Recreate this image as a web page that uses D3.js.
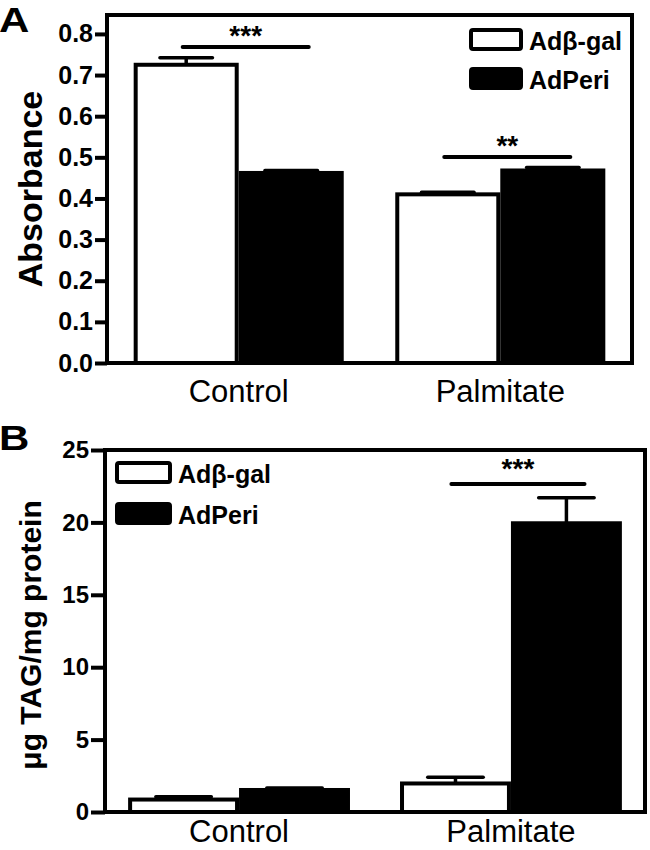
<!DOCTYPE html>
<html><head><meta charset="utf-8">
<script src="https://cdn.jsdelivr.net/npm/d3@7"></script>
<style>
body{margin:0;background:#fff}
svg{display:block}
text{font-family:"Liberation Sans",Arial,Helvetica,sans-serif;fill:#000}
</style>
</head><body>
<svg id="chart" width="650" height="850"></svg>
<script>
// ---------- data ----------
const categories = ["Control", "Palmitate"];
const seriesNames = ["Adβ-gal", "AdPeri"];

// Panel A: Absorbance
const absBgalMean = [0.725, 0.410];
const absBgalErr  = [0.017, 0.005];
const absPeriMean = [0.462, 0.468];
const absPeriErr  = [0.006, 0.007];
const absTicks = [0, 0.1, 0.2, 0.3, 0.4, 0.5, 0.6, 0.7, 0.8];
const absTickLabels = ["0.0", "0.1", "0.2", "0.3", "0.4", "0.5", "0.6", "0.7", "0.8"];
const absSigCats = ["Control", "Palmitate"];
const absSigLevels = [0.768, 0.501];
const absSigLabels = ["***", "**"];

// Panel B: µg TAG/mg protein
const tagBgalMean = [0.86, 1.97];
const tagBgalErr  = [0.20, 0.43];
const tagPeriMean = [1.52, 19.94];
const tagPeriErr  = [0.14, 1.76];
const tagTicks = [0, 5, 10, 15, 20, 25];
const tagTickLabels = ["0", "5", "10", "15", "20", "25"];
const tagSigCats = ["Palmitate"];
const tagSigLevels = [22.65];
const tagSigLabels = ["***"];

// ---------- drawing ----------
const svg = d3.select("#chart");
const SW = 4;

function drawPanel(cfg) {
  const g = svg.append("g");
  const x0 = d3.scaleBand().domain(categories)
    .range([cfg.left, cfg.right]).paddingInner(cfg.pi).paddingOuter(cfg.po);
  const x1 = d3.scaleBand().domain(seriesNames).range([0, x0.bandwidth()]);
  const y = d3.scaleLinear().domain([0, cfg.yMax]).range([cfg.bottom, cfg.top]);

  const rows = [];
  categories.forEach((c, i) => {
    seriesNames.forEach((s, j) => {
      rows.push({cat: c, ser: s, j: j, mean: cfg.means[j][i], err: cfg.errs[j][i]});
    });
  });

  // error bars
  const cx = d => x0(d.cat) + x1(d.ser) + x1.bandwidth() / 2;
  const capW = x1.bandwidth() * 0.5;
  g.selectAll("line.stem").data(rows).join("line")
    .attr("x1", cx).attr("x2", cx)
    .attr("y1", d => y(d.mean)).attr("y2", d => y(d.mean + d.err))
    .attr("stroke", "#000").attr("stroke-width", 3.5);
  g.selectAll("line.cap").data(rows).join("line")
    .attr("x1", d => cx(d) - capW / 2).attr("x2", d => cx(d) + capW / 2)
    .attr("y1", d => y(d.mean + d.err)).attr("y2", d => y(d.mean + d.err))
    .attr("stroke", "#000").attr("stroke-width", 3.5).attr("stroke-linecap", "round");

  // bars
  g.selectAll("rect.bar").data(rows).join("rect")
    .attr("x", d => x0(d.cat) + x1(d.ser) + SW / 2)
    .attr("width", x1.bandwidth() - SW)
    .attr("y", d => y(d.mean))
    .attr("height", d => y(0) - y(d.mean))
    .attr("fill", d => d.j === 0 ? "#fff" : "#000")
    .attr("stroke", "#000").attr("stroke-width", SW);

  // y axis
  const ax = g.append("g").attr("transform", `translate(${cfg.left},0)`)
    .call(d3.axisLeft(y).tickValues(cfg.ticks)
      .tickFormat((d, i) => cfg.tickLabels[i]).tickSize(cfg.tickLen).tickPadding(2));
  ax.select(".domain").remove();
  ax.selectAll(".tick line").attr("stroke", "#000").attr("stroke-width", SW);
  ax.selectAll(".tick text")
    .style("font-family", '"Liberation Sans",Arial,sans-serif')
    .style("font-size", cfg.tickFont + "px").style("font-weight", "bold")
    .attr("fill", "#000");

  // frame
  g.append("rect")
    .attr("x", cfg.left).attr("y", cfg.top)
    .attr("width", cfg.right - cfg.left).attr("height", cfg.bottom - cfg.top)
    .attr("fill", "none").attr("stroke", "#000").attr("stroke-width", SW);

  // category labels
  g.selectAll("text.cat").data(categories).join("text")
    .attr("x", d => x0(d) + x0.bandwidth() / 2)
    .attr("y", cfg.catY)
    .attr("text-anchor", "middle")
    .style("font-size", "31px")
    .text(d => d);

  // significance
  cfg.sigCats.forEach((c, i) => {
    const mid = x0(c) + x0.bandwidth() / 2 + 7;
    const half = x0.bandwidth() * 0.3;
    const yy = y(cfg.sigLevels[i]);
    g.append("line").attr("x1", mid - half).attr("x2", mid + half)
      .attr("y1", yy).attr("y2", yy)
      .attr("stroke", "#000").attr("stroke-width", SW).attr("stroke-linecap", "round");
    g.append("text").attr("x", mid).attr("y", yy - 2 + cfg.starDy)
      .attr("text-anchor", "middle")
      .style("font-size", "28px").style("font-weight", "bold")
      .text(cfg.sigLabels[i]);
  });

  // y title
  g.append("text")
    .attr("transform", `translate(${cfg.titleX},${(cfg.top + cfg.bottom) / 2 + cfg.titleDy}) rotate(-90)`)
    .attr("text-anchor", "middle")
    .style("font-size", cfg.titleFont + "px").style("font-weight", "bold")
    .text(cfg.title);

  // legend
  const lg = g.append("g");
  seriesNames.forEach((s, j) => {
    const ly = cfg.legY + j * cfg.legStep;
    lg.append("rect")
      .attr("x", cfg.legX + SW / 2).attr("y", ly + SW / 2)
      .attr("width", cfg.legW - SW).attr("height", cfg.legH - SW)
      .attr("rx", 2)
      .attr("fill", j === 0 ? "#fff" : "#000")
      .attr("stroke", "#000").attr("stroke-width", SW);
    lg.append("text")
      .attr("x", cfg.legX + cfg.legW + 6).attr("y", ly + cfg.legH - 1)
      .style("font-size", "25px").style("font-weight", "bold")
      .text(s);
  });

  // panel letter
  g.append("text")
    .attr("transform", `translate(${cfg.letterX},${cfg.letterY}) scale(1.2,1)`)
    .style("font-size", "35px").style("font-weight", "bold")
    .text(cfg.letter);
}

drawPanel({
  left: 107, right: 632, top: 15, bottom: 363, yMax: 0.846,
  pi: 0.197, po: 0.102,
  means: [absBgalMean, absPeriMean], errs: [absBgalErr, absPeriErr],
  ticks: absTicks, tickLabels: absTickLabels, tickLen: 12, tickFont: 25,
  catY: 402,
  sigCats: absSigCats, sigLevels: absSigLevels, sigLabels: absSigLabels, starDy: 0,
  title: "Absorbance", titleX: 42, titleDy: 0, titleFont: 34,
  legX: 469, legY: 28, legW: 54, legH: 23, legStep: 39,
  letter: "A", letterX: -1, letterY: 32
});

drawPanel({
  left: 105, right: 645, top: 450, bottom: 812, yMax: 25,
  pi: 0.184, po: 0.085,
  means: [tagBgalMean, tagPeriMean], errs: [tagBgalErr, tagPeriErr],
  ticks: tagTicks, tickLabels: tagTickLabels, tickLen: 14, tickFont: 24,
  catY: 842,
  sigCats: tagSigCats, sigLevels: tagSigLevels, sigLabels: tagSigLabels, starDy: -4,
  title: "μg TAG/mg protein", titleX: 41, titleDy: 4, titleFont: 30,
  legX: 115, legY: 461, legW: 57, legH: 23, legStep: 41,
  letter: "B", letterX: -1, letterY: 450
});
</script>
</body></html>
